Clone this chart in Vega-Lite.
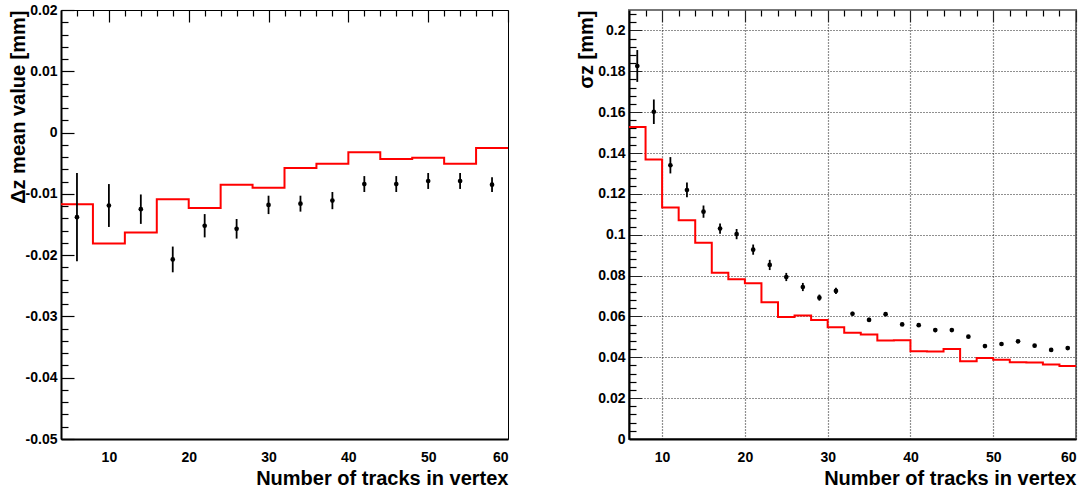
{
  "$schema": "https://vega.github.io/schema/vega-lite/v6.json",
  "padding": {"left": 7, "top": 2, "right": 0, "bottom": 0},
  "spacing": 62,
  "config": {
    "font": "Liberation Sans",
    "view": {"stroke": "black", "strokeWidth": 1},
    "axis": {
      "domainColor": "black",
      "domainWidth": 2,
      "labelFont": "Liberation Sans",
      "labelFontSize": 14,
      "labelFontWeight": "bold",
      "labelColor": "black",
      "titleFont": "Liberation Sans",
      "titleFontSize": 20,
      "titleFontWeight": "bold",
      "titleColor": "black",
      "labelOverlap": false,
      "ticks": false,
      "grid": true,
      "gridColor": "black",
      "gridOpacity": 1,
      "gridWidth": 1.2
    }
  },
  "hconcat": [
    {
      "width": 447,
      "height": 429,
      "encoding": {
        "x": {
          "field": "x", "type": "quantitative",
          "scale": {"domain": [4, 60], "nice": false, "zero": false},
          "axis": {
            "title": "Number of tracks in vertex",
            "titleAnchor": "end", "titleAlign": "right", "titleBaseline": "alphabetic",
            "titleX": 447, "titleY": 45,
            "values": [6,8,10,12,14,16,18,20,22,24,26,28,30,32,34,36,38,40,42,44,46,48,50,52,54,56,58,60],
            "labelExpr": "datum.value % 10 === 0 ? datum.value + '' : ''",
            "labelPadding": 11,
            "gridDash": {"condition": {"test": "datum.value % 10 === 0", "value": [12, 3000]}, "value": [6, 3000]}
          }
        },
        "y": {
          "field": "v", "type": "quantitative",
          "scale": {"domain": [-0.05, 0.02], "nice": false, "zero": false},
          "axis": {
            "title": "Δz mean value [mm]",
            "titleAngle": 270, "titleAlign": "right", "titleBaseline": "alphabetic",
            "titleX": -37, "titleY": 0,
            "values": [-0.05,-0.048,-0.046,-0.044,-0.042,-0.04,-0.038,-0.036,-0.034,-0.032,-0.03,-0.028,-0.026,-0.024,-0.022,-0.02,-0.018,-0.016,-0.014,-0.012,-0.01,-0.008,-0.006,-0.004,-0.002,0,0.002,0.004,0.006,0.008,0.01,0.012,0.014,0.016,0.018,0.02],
            "labelExpr": "abs(datum.value*100 - round(datum.value*100)) < 1e-6 ? datum.value + '' : ''",
            "labelPadding": 4,
            "gridDash": {"condition": {"test": "abs(datum.value*100 - round(datum.value*100)) < 1e-6", "value": [13, 3000]}, "value": [7, 3000]}
          }
        }
      },
      "layer": [
        {
          "data": {"values": [
            {"lo": 4, "hi": 8, "v": -0.0117},
            {"lo": 8, "hi": 12, "v": -0.0181},
            {"lo": 12, "hi": 16, "v": -0.0163},
            {"lo": 16, "hi": 20, "v": -0.0109},
            {"lo": 20, "hi": 24, "v": -0.0123},
            {"lo": 24, "hi": 28, "v": -0.0085},
            {"lo": 28, "hi": 32, "v": -0.0090},
            {"lo": 32, "hi": 36, "v": -0.0058},
            {"lo": 36, "hi": 40, "v": -0.0051},
            {"lo": 40, "hi": 44, "v": -0.0032},
            {"lo": 44, "hi": 48, "v": -0.0043},
            {"lo": 48, "hi": 52, "v": -0.0041},
            {"lo": 52, "hi": 56, "v": -0.0051},
            {"lo": 56, "hi": 60, "v": -0.0025}
          ]},
          "transform": [{"fold": ["lo", "hi"], "as": ["k", "x"]}],
          "mark": {"type": "line", "color": "#ff0000", "strokeWidth": 2, "interpolate": "linear"},
          "encoding": {
            "order": [{"field": "lo", "type": "quantitative"}, {"field": "k", "sort": "descending"}]
          }
        },
        {
          "data": {"name": "pa", "values": [
            {"x": 6, "v": -0.0138, "err": 0.0072},
            {"x": 10, "v": -0.0119, "err": 0.0035},
            {"x": 14, "v": -0.0125, "err": 0.0024},
            {"x": 18, "v": -0.0207, "err": 0.0021},
            {"x": 22, "v": -0.0152, "err": 0.0019},
            {"x": 26, "v": -0.0157, "err": 0.0016},
            {"x": 30, "v": -0.0118, "err": 0.0015},
            {"x": 34, "v": -0.0116, "err": 0.0013},
            {"x": 38, "v": -0.0111, "err": 0.0014},
            {"x": 42, "v": -0.0084, "err": 0.0013},
            {"x": 46, "v": -0.0084, "err": 0.0013},
            {"x": 50, "v": -0.0079, "err": 0.0013},
            {"x": 54, "v": -0.0079, "err": 0.0013},
            {"x": 58, "v": -0.0085, "err": 0.0012}
          ]},
          "mark": {"type": "errorbar", "color": "black", "rule": {"strokeWidth": 1.8}},
          "encoding": {"yError": {"field": "err"}}
        },
        {
          "data": {"name": "pa"},
          "mark": {"type": "point", "filled": true, "color": "black", "size": 22, "opacity": 1},
          "encoding": {}
        },
        {
          "data": {"values": [{"label": "(a)"}]},
          "mark": {"type": "text", "align": "right", "baseline": "alphabetic", "dx": -13, "dy": 41, "fontSize": 28, "fontWeight": "bold", "font": "Liberation Sans", "color": "black"},
          "encoding": {
            "x": {"datum": 60, "type": "quantitative"},
            "y": {"datum": 0.02, "type": "quantitative"},
            "text": {"field": "label"}
          }
        }
      ]
    },
    {
      "width": 447,
      "height": 429,
      "view": {"stroke": "#777777", "strokeWidth": 2},
      "encoding": {
        "x": {
          "field": "x", "type": "quantitative",
          "scale": {"domain": [6, 60], "nice": false, "zero": false},
          "axis": {
            "title": "Number of tracks in vertex",
            "titleAnchor": "end", "titleAlign": "right", "titleBaseline": "alphabetic",
            "titleX": 447, "titleY": 45,
            "values": [8,10,12,14,16,18,20,22,24,26,28,30,32,34,36,38,40,42,44,46,48,50,52,54,56,58,60],
            "labelExpr": "datum.value % 10 === 0 ? datum.value + '' : ''",
            "labelPadding": 11,
            "gridColor": {"condition": {"test": "datum.value % 10 === 0", "value": "#222222"}, "value": "black"},
            "gridDash": {"condition": {"test": "datum.value % 10 === 0", "value": [12,2,1,2,1,2,1,2,1,2,1,2,1,2,1,2,1,2,1,2,1,2,1,2,1,2,1,2,1,2,1,2,1,2,1,2,1,2,1,2,1,2,1,2,1,2,1,2,1,2,1,2,1,2,1,2,1,2,1,2,1,2,1,2,1,2,1,2,1,2,1,2,1,2,1,2,1,2,1,2,1,2,1,2,1,2,1,2,1,2,1,2,1,2,1,2,1,2,1,2,1,2,1,2,1,2,1,2,1,2,1,2,1,2,1,2,1,2,1,2,1,2,1,2,1,2,1,2,1,2,1,2,1,2,1,2,1,2,1,2,1,2,1,2,1,2,1,2,1,2,1,2,1,2,1,2,1,2,1,2,1,2,1,2,1,2,1,2,1,2,1,2,1,2,1,2,1,2,1,2,1,2,1,2,1,2,1,2,1,2,1,2,1,2,1,2,1,2,1,2,1,2,1,2,1,2,1,2,1,2,1,2,1,2,1,2,1,2,1,2,1,2,1,2,1,2,1,2,1,2,1,2,1,2,1,2,1,2,1,2,1,2,1,2,1,2,1,2,1,2,1,2,1,2,1,2,1,2,1,2,1,2,1,2,1,2,1,2,1,2,1,2,1,2,1,2,1,2,1,2,1,2,1,2,1,2,1,2,1,2,1,2,1,2,1,2,1,2,1,2,1,2,1,2,1,2,1,2,1,2,1,2,1,2]}, "value": [6, 3000]}
          }
        },
        "y": {
          "field": "v", "type": "quantitative",
          "scale": {"domain": [0, 0.21], "nice": false, "zero": false},
          "axis": {
            "title": "σz [mm]",
            "titleAngle": 270, "titleAlign": "right", "titleBaseline": "alphabetic",
            "titleX": -37, "titleY": 0,
            "values": [0,0.004,0.008,0.012,0.016,0.02,0.024,0.028,0.032,0.036,0.04,0.044,0.048,0.052,0.056,0.06,0.064,0.068,0.072,0.076,0.08,0.084,0.088,0.092,0.096,0.1,0.104,0.108,0.112,0.116,0.12,0.124,0.128,0.132,0.136,0.14,0.144,0.148,0.152,0.156,0.16,0.164,0.168,0.172,0.176,0.18,0.184,0.188,0.192,0.196,0.2,0.204,0.208],
            "labelExpr": "abs(datum.value*50 - round(datum.value*50)) < 1e-6 ? datum.value + '' : ''",
            "labelPadding": 4,
            "gridColor": {"condition": {"test": "abs(datum.value*50 - round(datum.value*50)) < 1e-6", "value": "#222222"}, "value": "black"},
            "gridDash": {"condition": {"test": "abs(datum.value*50 - round(datum.value*50)) < 1e-6", "value": [13,2,1,2,1,2,1,2,1,2,1,2,1,2,1,2,1,2,1,2,1,2,1,2,1,2,1,2,1,2,1,2,1,2,1,2,1,2,1,2,1,2,1,2,1,2,1,2,1,2,1,2,1,2,1,2,1,2,1,2,1,2,1,2,1,2,1,2,1,2,1,2,1,2,1,2,1,2,1,2,1,2,1,2,1,2,1,2,1,2,1,2,1,2,1,2,1,2,1,2,1,2,1,2,1,2,1,2,1,2,1,2,1,2,1,2,1,2,1,2,1,2,1,2,1,2,1,2,1,2,1,2,1,2,1,2,1,2,1,2,1,2,1,2,1,2,1,2,1,2,1,2,1,2,1,2,1,2,1,2,1,2,1,2,1,2,1,2,1,2,1,2,1,2,1,2,1,2,1,2,1,2,1,2,1,2,1,2,1,2,1,2,1,2,1,2,1,2,1,2,1,2,1,2,1,2,1,2,1,2,1,2,1,2,1,2,1,2,1,2,1,2,1,2,1,2,1,2,1,2,1,2,1,2,1,2,1,2,1,2,1,2,1,2,1,2,1,2,1,2,1,2,1,2,1,2,1,2,1,2,1,2,1,2,1,2,1,2,1,2,1,2,1,2,1,2,1,2,1,2,1,2,1,2,1,2,1,2,1,2,1,2,1,2,1,2,1,2,1,2,1,2,1,2,1,2,1,2,1,2,1,2,1,2,1,2,1,2,1,2,1,2,1,2,1,2,1,2,1,2,1,2]}, "value": [7, 3000]}
          }
        }
      },
      "layer": [
        {
          "data": {"values": [
            {"lo": 6, "hi": 8, "v": 0.1527},
            {"lo": 8, "hi": 10, "v": 0.1368},
            {"lo": 10, "hi": 12, "v": 0.1133},
            {"lo": 12, "hi": 14, "v": 0.1071},
            {"lo": 14, "hi": 16, "v": 0.0961},
            {"lo": 16, "hi": 18, "v": 0.0814},
            {"lo": 18, "hi": 20, "v": 0.0782},
            {"lo": 20, "hi": 22, "v": 0.0762},
            {"lo": 22, "hi": 24, "v": 0.0669},
            {"lo": 24, "hi": 26, "v": 0.0597},
            {"lo": 26, "hi": 28, "v": 0.0604},
            {"lo": 28, "hi": 30, "v": 0.0583},
            {"lo": 30, "hi": 32, "v": 0.0547},
            {"lo": 32, "hi": 34, "v": 0.0520},
            {"lo": 34, "hi": 36, "v": 0.0511},
            {"lo": 36, "hi": 38, "v": 0.0482},
            {"lo": 38, "hi": 40, "v": 0.0484},
            {"lo": 40, "hi": 42, "v": 0.0430},
            {"lo": 42, "hi": 44, "v": 0.0428},
            {"lo": 44, "hi": 46, "v": 0.0440},
            {"lo": 46, "hi": 48, "v": 0.0380},
            {"lo": 48, "hi": 50, "v": 0.0396},
            {"lo": 50, "hi": 52, "v": 0.0388},
            {"lo": 52, "hi": 54, "v": 0.0376},
            {"lo": 54, "hi": 56, "v": 0.0375},
            {"lo": 56, "hi": 58, "v": 0.0365},
            {"lo": 58, "hi": 60, "v": 0.0357}
          ]},
          "transform": [{"fold": ["lo", "hi"], "as": ["k", "x"]}],
          "mark": {"type": "line", "color": "#ff0000", "strokeWidth": 2, "interpolate": "linear"},
          "encoding": {
            "order": [{"field": "lo", "type": "quantitative"}, {"field": "k", "sort": "descending"}]
          }
        },
        {
          "data": {"name": "pb", "values": [
            {"x": 7, "v": 0.1826, "err": 0.0078},
            {"x": 9, "v": 0.1602, "err": 0.0060},
            {"x": 11, "v": 0.1340, "err": 0.0040},
            {"x": 13, "v": 0.1219, "err": 0.0036},
            {"x": 15, "v": 0.1113, "err": 0.0030},
            {"x": 17, "v": 0.1030, "err": 0.0025},
            {"x": 19, "v": 0.1003, "err": 0.0025},
            {"x": 21, "v": 0.0927, "err": 0.0025},
            {"x": 23, "v": 0.0852, "err": 0.0025},
            {"x": 25, "v": 0.0793, "err": 0.0020},
            {"x": 27, "v": 0.0744, "err": 0.0020},
            {"x": 29, "v": 0.0692, "err": 0.0015},
            {"x": 31, "v": 0.0725, "err": 0.0015},
            {"x": 33, "v": 0.0613, "err": 0.0010},
            {"x": 35, "v": 0.0583, "err": 0.0010},
            {"x": 37, "v": 0.0611, "err": 0.0010},
            {"x": 39, "v": 0.0561, "err": 0.0008},
            {"x": 41, "v": 0.0557, "err": 0.0008},
            {"x": 43, "v": 0.0533, "err": 0.0010},
            {"x": 45, "v": 0.0533, "err": 0.0006},
            {"x": 47, "v": 0.0501, "err": 0.0006},
            {"x": 49, "v": 0.0455, "err": 0.0006},
            {"x": 51, "v": 0.0465, "err": 0.0006},
            {"x": 53, "v": 0.0478, "err": 0.0006},
            {"x": 55, "v": 0.0457, "err": 0.0008},
            {"x": 57, "v": 0.0436, "err": 0.0006},
            {"x": 59, "v": 0.0445, "err": 0.0006}
          ]},
          "mark": {"type": "errorbar", "color": "black", "rule": {"strokeWidth": 1.8}},
          "encoding": {"yError": {"field": "err"}}
        },
        {
          "data": {"name": "pb"},
          "mark": {"type": "point", "filled": true, "color": "black", "size": 22, "opacity": 1},
          "encoding": {}
        },
        {
          "data": {"values": [{"label": "(b)"}]},
          "mark": {"type": "text", "align": "right", "baseline": "alphabetic", "dx": -13, "dy": 41, "fontSize": 28, "fontWeight": "bold", "font": "Liberation Sans", "color": "black"},
          "encoding": {
            "x": {"datum": 60, "type": "quantitative"},
            "y": {"datum": 0.21, "type": "quantitative"},
            "text": {"field": "label"}
          }
        }
      ]
    }
  ]
}
